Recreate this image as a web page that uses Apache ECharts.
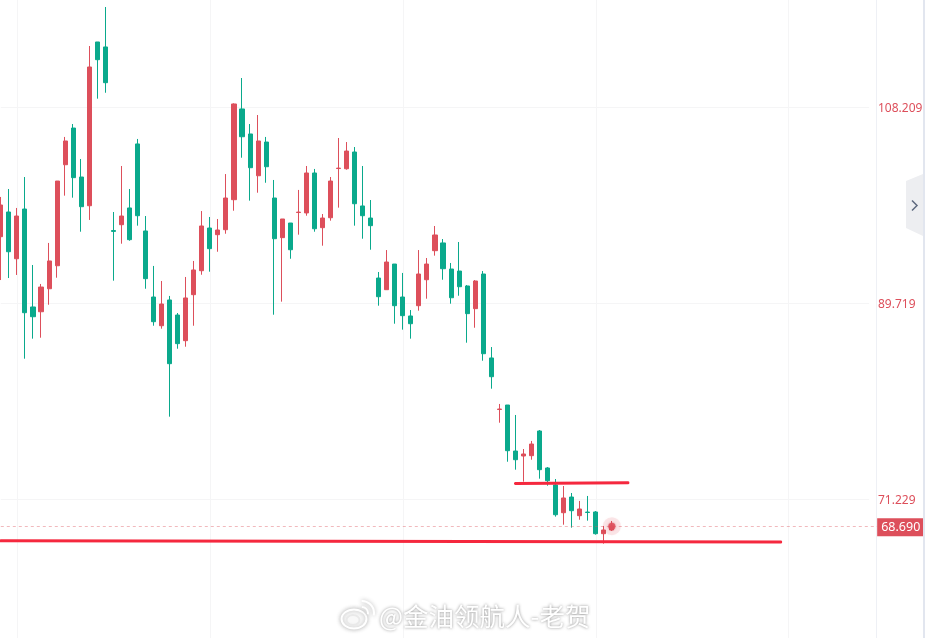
<!DOCTYPE html>
<html>
<head>
<meta charset="utf-8">
<title>K线图</title>
<style>html,body{margin:0;padding:0;background:#fff}#chart{width:931px;height:638px}</style>
<script src="https://cdn.jsdelivr.net/npm/echarts@6/dist/echarts.min.js"></script>
</head>
<body>
<div id="chart"></div>
<script>
// Daily candles, oldest first
const opens = [96.00,98.33,93.92,98.61,89.37,88.92,91.09,93.26,102.79,106.25,101.63,98.92,114.37,113.90,96.58,97.13,98.71,104.75,96.54,90.31,87.60,90.03,88.61,86.19,90.53,92.79,96.82,96.19,96.66,99.49,108.05,105.69,101.75,104.93,99.65,95.91,97.29,98.28,98.24,102.01,96.85,97.79,102.43,102.41,103.99,98.90,97.76,92.10,91.00,93.42,90.31,88.52,89.49,91.94,94.68,95.41,92.95,92.76,91.35,89.21,92.48,84.56,79.70,80.12,75.78,75.31,75.34,77.67,74.18,72.58,69.96,71.44,69.68,70.02,70.03,67.98,68.33];
const closes = [98.99,94.58,97.95,88.83,88.45,91.25,93.71,101.25,105.03,101.57,98.83,112.01,112.70,110.53,96.50,97.95,95.72,97.98,92.04,87.98,89.65,84.02,85.91,90.22,92.86,97.01,94.87,96.63,99.65,108.52,105.43,102.51,105.03,102.60,95.81,97.67,94.77,98.32,102.01,96.75,97.76,101.25,102.47,104.08,99.11,97.98,97.04,90.34,93.61,89.49,88.55,87.79,92.48,93.42,96.16,92.98,90.24,91.28,88.74,91.82,84.96,82.79,79.74,75.81,74.96,75.50,76.44,74.02,72.98,69.77,71.35,70.15,70.31,69.98,67.98,68.33,68.69];
const lows = [91.91,92.10,92.39,84.49,86.38,86.47,89.58,92.13,99.87,99.68,96.47,97.58,109.02,109.58,91.85,95.34,95.62,97.04,91.09,87.60,87.32,79.02,85.43,85.62,87.60,92.41,92.70,94.58,96.28,98.45,103.45,99.40,100.15,101.09,88.64,89.87,93.92,96.19,97.98,96.47,95.15,97.51,98.74,102.32,97.04,95.81,94.77,89.49,91.00,87.79,87.23,86.38,89.02,90.15,94.21,91.94,89.68,90.43,86.00,87.41,84.30,81.66,78.45,74.77,74.02,72.89,74.96,73.17,72.51,69.59,68.83,68.55,69.30,69.21,67.89,67.04,68.24];
const highs = [99.75,100.50,98.71,101.63,93.33,91.54,95.41,101.25,105.41,106.63,103.33,113.99,114.37,117.67,98.33,102.67,100.50,105.22,97.95,93.24,91.82,90.41,88.80,92.20,93.71,98.42,97.86,97.67,101.91,108.58,110.97,106.63,107.48,105.41,101.35,97.67,97.29,100.41,102.67,102.39,98.14,101.63,105.31,104.93,104.46,102.67,99.46,92.67,94.74,93.42,92.58,89.08,94.74,93.99,97.01,95.78,93.52,95.50,91.44,91.91,92.76,85.59,80.22,80.12,79.18,75.97,76.73,77.76,74.27,73.14,72.48,71.82,71.07,71.54,70.12,68.71,69.18];

// Price axis ticks and the latest quote
const priceTicks = [71.229, 89.719, 108.209];
const lastPrice = 68.690;
// Candle slots that carry a vertical grid line
const timeTicks = [2, 26, 50, 74, 98];
// Hand-drawn levels: [candle slot, price]
const upperLevel = [[64, 72.72], [78, 72.78]];
const lowerLevel = [[0, 67.31], [97, 67.20]];
const watermark = '@金油领航人-老贺';

const RED = '#dd4f5b', GREEN = '#0aa98c', LEVEL = '#f5283e', GRID = '#f5f5f6';
const slots = Array.from({length: 110}, (_, i) => String(i));
const candles = opens.map((o, i) => [o, closes[i], lows[i], highs[i]]);
const lastSlot = candles.length - 1;
const plain = {show: false};

const levelSeries = (name, data) => ({
  name, type: 'line', data, z: 4, symbol: 'none', silent: true,
  lineStyle: {color: LEVEL, width: 3, cap: 'round'}
});

const halo = {shadowColor: 'rgba(170,170,170,0.9)', shadowBlur: 4};

const chart = echarts.init(document.getElementById('chart'), null, {renderer: 'canvas'});
chart.setOption({
  animation: false,
  backgroundColor: '#fff',
  grid: {left: -3.2, width: 884.4, top: 0, bottom: 0, outerBoundsMode: 'none', containLabel: false},
  xAxis: {type: 'category', data: slots, axisLine: plain, axisTick: plain, axisLabel: plain, splitLine: plain},
  yAxis: {
    type: 'value', position: 'right', offset: -5.2, min: 58.14, max: 118.33, scale: true,
    axisLine: {show: true, onZero: false, lineStyle: {color: '#eef0f5', width: 1}},
    axisTick: plain, splitLine: plain,
    axisLabel: {
      show: true, customValues: priceTicks, margin: 2, color: RED,
      fontFamily: 'Noto Sans', fontSize: 12, verticalAlign: 'top', lineHeight: 3,
      formatter: v => v.toFixed(3)
    }
  },
  series: [
    {
      name: 'grid', type: 'line', data: [], z: 1, silent: true,
      markLine: {
        silent: true, symbol: 'none', animation: false, label: plain, z: 1,
        lineStyle: {color: GRID, width: 1, type: 'solid'},
        data: [
          ...priceTicks.map(v => [{coord: [0, v]}, {coord: [108, v]}]),
          ...timeTicks.map(t => ({xAxis: t}))
        ]
      }
    },
    {
      name: 'price', type: 'candlestick', data: candles, z: 2, barWidth: 4.6,
      itemStyle: {color: RED, color0: GREEN, borderColor: RED, borderColor0: GREEN, borderWidth: 1}
    },
    {
      name: 'last', type: 'line', data: [], z: 3, silent: true,
      markLine: {
        silent: true, symbol: 'none', animation: false, z: 3,
        lineStyle: {color: 'rgba(221,79,91,0.4)', width: 1, type: [3, 3]},
        label: {
          show: true, position: 'end', distance: 0, offset: [0, 1], formatter: () => lastPrice.toFixed(3),
          color: '#fff', backgroundColor: RED, fontFamily: 'Noto Sans', fontSize: 12.5,
          width: 43, height: 18, lineHeight: 18, align: 'left', padding: [0, 0, 0, 4]
        },
        data: [[{coord: [0, lastPrice]}, {coord: [109, lastPrice]}]]
      }
    },
    levelSeries('upper', upperLevel),
    levelSeries('lower', lowerLevel),
    {
      name: 'pulse', type: 'scatter', z: 5, silent: true, symbolSize: 18,
      data: [[lastSlot, lastPrice]],
      itemStyle: {color: 'rgba(221,79,91,0.16)', shadowColor: 'rgba(221,79,91,0.2)', shadowBlur: 3}
    },
    {
      name: 'dot', type: 'scatter', z: 6, silent: true, symbolSize: 7,
      data: [[lastSlot, lastPrice]],
      itemStyle: {color: RED, shadowColor: RED, shadowBlur: 2}
    }
  ],
  graphic: [
    // right-hand border of the price panel
    {type: 'rect', silent: true, z: 20, shape: {x: 923, y: 0, width: 2, height: 638}, style: {fill: '#e2e6ef'}},
    // collapse handle
    {type: 'polygon', silent: true, z: 21, shape: {points: [[923, 174], [906, 181], [906, 228], [923, 236]]}, style: {fill: '#edeef1'}},
    {type: 'polyline', silent: true, z: 22, shape: {points: [[912, 200.5], [917, 205.5], [912, 210.5]]}, style: {stroke: '#5f6a80', lineWidth: 1.5, fill: null}},
    // watermark
    {type: 'text', silent: true, z: 30, x: 379, y: 604, style: {
      text: watermark, fontFamily: 'Noto Sans CJK SC', fontSize: 25.5, fill: '#fff',
      textShadowColor: 'rgba(120,120,120,0.85)', textShadowBlur: 3
    }},
    {type: 'ellipse', silent: true, z: 30, shape: {cx: 354, cy: 619, rx: 12.5, ry: 9.5}, style: {fill: 'rgba(255,255,255,0.9)', stroke: '#fff', lineWidth: 2, ...halo}},
    {type: 'ellipse', silent: true, z: 31, shape: {cx: 353, cy: 620, rx: 6.5, ry: 5}, style: {fill: 'none', stroke: '#e9e9e9', lineWidth: 2}},
    {type: 'arc', silent: true, z: 30, shape: {cx: 362, cy: 613, r: 6, startAngle: -1.6, endAngle: 0.2}, style: {fill: 'none', stroke: '#fff', lineWidth: 2, ...halo}},
    {type: 'arc', silent: true, z: 30, shape: {cx: 362, cy: 613, r: 12, startAngle: -1.6, endAngle: 0.2}, style: {fill: 'none', stroke: '#fff', lineWidth: 2, ...halo}}
  ]
});
</script>
</body>
</html>
